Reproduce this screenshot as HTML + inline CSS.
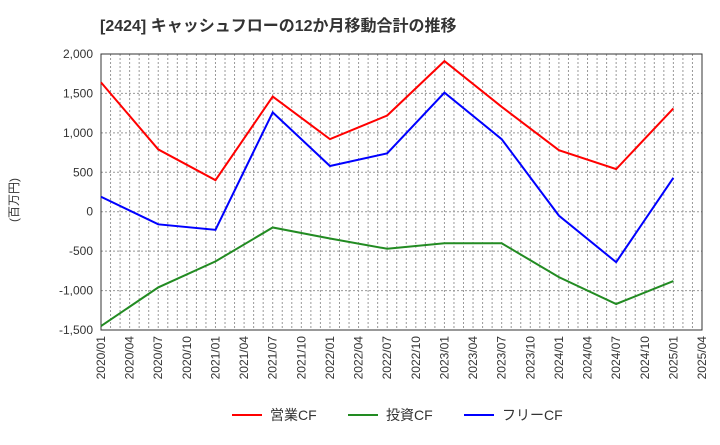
<!DOCTYPE html>
<html><head><meta charset="utf-8"><style>
body{margin:0;background:#fff;font-family:"Liberation Sans","Noto Sans CJK JP",sans-serif;}
</style></head><body>
<svg id="c" width="720" height="440" xmlns="http://www.w3.org/2000/svg" font-family="Liberation Sans, Noto Sans CJK JP, sans-serif"></svg>
<script>
const xTicks=["2020/01","2020/04","2020/07","2020/10","2021/01","2021/04","2021/07","2021/10","2022/01","2022/04","2022/07","2022/10","2023/01","2023/04","2023/07","2023/10","2024/01","2024/04","2024/07","2024/10","2025/01","2025/04"];
const yTicks=[2000,1500,1000,500,0,-500,-1000,-1500];
const pointIdx=[0,2,4,6,8,10,12,14,16,18,20];
const opCF=[1640,790,400,1460,920,1220,1910,1330,780,540,1310];
const invCF=[-1450,-960,-630,-200,-340,-470,-400,-400,-830,-1170,-880];
const freeCF=[190,-160,-230,1260,580,740,1510,920,-50,-640,430];
const svg=document.getElementById('c');const NS='http://www.w3.org/2000/svg';
const L=101,R=702,T=54,B=330;
const x=i=>L+(R-L)*i/(xTicks.length-1);
const y=v=>T+(B-T)*(2000-v)/3500;
function el(t,a,p){const e=document.createElementNS(NS,t);for(const k in a)e.setAttribute(k,a[k]);(p||svg).appendChild(e);return e;}
const title=el('text',{x:100,y:31,'font-size':16,'font-weight':'bold',fill:'#333'});title.textContent='[2424]  キャッシュフローの12か月移動合計の推移';

for(let m=0;m<=63;m++){const xx=L+(R-L)*m/63;const g=el('line',{x1:xx,x2:xx,y1:T,y2:B,stroke:'#999','stroke-dasharray':'2,2','stroke-width':1});}
yTicks.forEach(v=>{const g=el('line',{x1:L,x2:R,y1:y(v),y2:y(v),stroke:'#999','stroke-dasharray':'2,2'});
const t=el('text',{x:L-8,y:y(v)+4,'text-anchor':'end','font-size':12,fill:'#333'});t.textContent=v.toLocaleString('en-US');});
const fr=el('rect',{x:L,y:T,width:R-L,height:B-T,fill:'none',stroke:'#333'});
xTicks.forEach((s,i)=>{const t=el('text',{transform:`translate(${x(i)+4},${B+6}) rotate(-90)`,'text-anchor':'end','font-size':12,fill:'#333'});t.textContent=s;});
const yt=el('text',{transform:'translate(18,200) rotate(-90)','text-anchor':'middle','font-size':12,fill:'#333'});yt.textContent='(百万円)';
function series(d,c,n){const p=el('polyline',{points:d.map((v,k)=>x(pointIdx[k])+','+y(v)).join(' '),fill:'none',stroke:c,'stroke-width':2});}
series(opCF,'#ff0000','operating-cf-line');series(invCF,'#228b22','investing-cf-line');series(freeCF,'#0000ff','free-cf-line');
[['営業CF','#ff0000',232],['投資CF','#228b22',348],['フリーCF','#0000ff',464]].forEach(([s,c,lx])=>{const g=el('g',{});
el('line',{x1:lx,x2:lx+30,y1:415,y2:415,stroke:c,'stroke-width':2},g);const t=el('text',{x:lx+38,y:420,'font-size':14,fill:'#333'},g);t.textContent=s;});
</script></body></html>
